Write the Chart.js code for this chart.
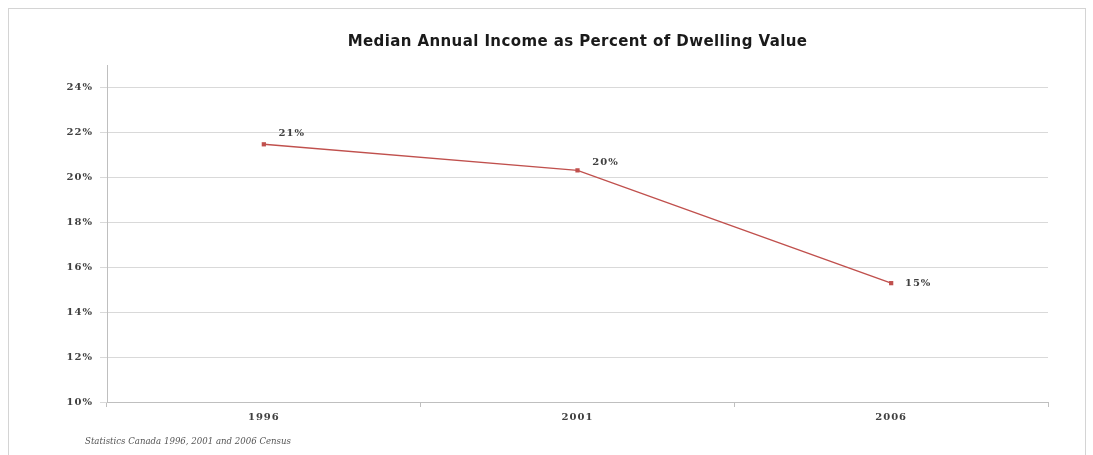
<!DOCTYPE html>
<html>
<head>
<meta charset="utf-8">
<script src="https://cdn.jsdelivr.net/npm/chart.js@4/dist/chart.umd.min.js"></script>
<style>
  html, body { margin: 0; padding: 0; background: #ffffff; }
  #frame { position: absolute; left: 8px; top: 8px; width: 1078px; height: 460px; border: 1px solid #d4d4d4; box-sizing: border-box; }
  #wrap { position: absolute; left: 0; top: 0; width: 1093px; height: 455px; }
</style>
</head>
<body>
<div id="frame"></div>
<div id="wrap"><canvas id="c" width="1093" height="455"></canvas></div>
<script>
const categories = ["1996", "2001", "2006"];
const incomePercent = [21.47, 20.31, 15.29];
const yTickValues = [10, 12, 14, 16, 18, 20, 22, 24];
const chartTitle = "Median Annual Income as Percent of Dwelling Value";
const sourceNote = "Statistics Canada 1996, 2001 and 2006 Census";

const labelOffsets = [[28, -11], [28, -8], [27, 0]];

const overlay = {
  id: 'overlay',
  beforeDraw(chart) {
    chart.ctx.letterSpacing = '1px';
  },
  afterDatasetsDraw(chart) {
    const ctx = chart.ctx;
    const area = chart.chartArea;
    ctx.save();
    // title centred over plot area
    ctx.letterSpacing = '0.4px';
    ctx.fillStyle = '#1a1a1a';
    ctx.font = 'bold 15px "DejaVu Sans"';
    ctx.textAlign = 'center';
    ctx.textBaseline = 'middle';
    ctx.fillText(chartTitle, (area.left + area.right) / 2, 42);
    // data labels
    ctx.letterSpacing = '1px';
    const meta = chart.getDatasetMeta(0);
    ctx.font = 'bold 10px "DejaVu Serif"';
    ctx.fillStyle = '#404040';
    meta.data.forEach((pt, i) => {
      const v = chart.data.datasets[0].data[i];
      const o = labelOffsets[i];
      ctx.fillText(Math.round(v) + '%', pt.x + o[0], pt.y + o[1]);
    });
    // source note
    ctx.letterSpacing = '0px';
    ctx.font = 'italic 8.6px "DejaVu Serif"';
    ctx.fillStyle = '#555555';
    ctx.textAlign = 'left';
    ctx.fillText(sourceNote, 85, 442);
    ctx.restore();
  }
};

new Chart(document.getElementById('c'), {
  type: 'line',
  data: {
    labels: categories,
    datasets: [{
      data: incomePercent,
      borderColor: '#c0504d',
      backgroundColor: '#c0504d',
      borderWidth: 1.5,
      pointStyle: 'rect',
      pointRadius: 3,
      pointBorderWidth: 0,
      tension: 0
    }]
  },
  options: {
    responsive: false,
    animation: false,
    layout: { padding: { left: 0, right: 45, top: 65, bottom: 0 } },
    plugins: {
      legend: { display: false },
      title: { display: false },
      tooltip: { enabled: false }
    },
    scales: {
      x: {
        offset: true,
        grid: { display: true, drawOnChartArea: false, offset: true, tickLength: 5, color: '#bfbfbf' },
        border: { color: '#bfbfbf' },
        ticks: { color: '#404040', font: { family: 'DejaVu Serif', size: 10, weight: 'bold' }, padding: 4 },
        afterFit(s) { s.height = 53; }
      },
      y: {
        min: 10,
        max: 25,
        afterBuildTicks(s) { s.ticks = yTickValues.map(v => ({ value: v })); },
        grid: { color: '#d9d9d9', tickLength: 7 },
        border: { color: '#bfbfbf' },
        ticks: {
          color: '#404040',
          font: { family: 'DejaVu Serif', size: 10, weight: 'bold' },
          padding: 7,
          callback: v => v + '%'
        },
        afterFit(s) { s.width = 107; }
      }
    }
  },
  plugins: [overlay]
});
</script>
</body>
</html>
